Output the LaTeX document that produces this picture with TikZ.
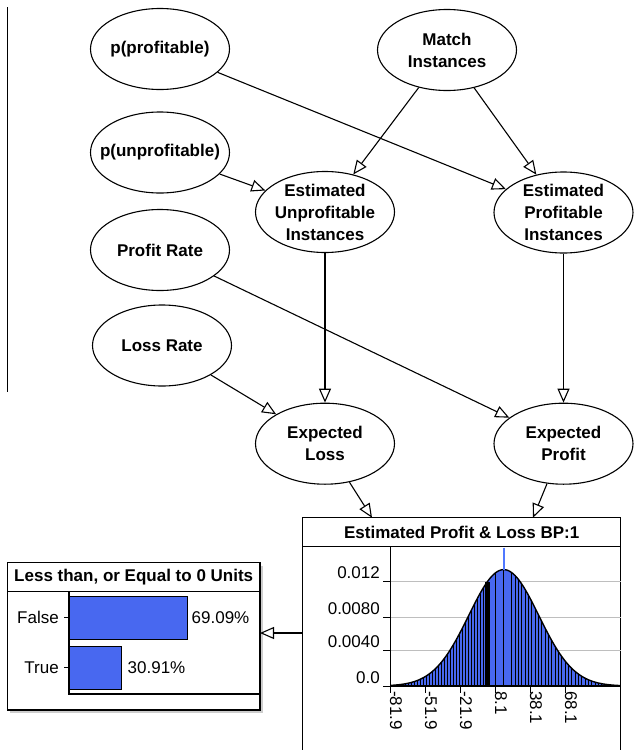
\documentclass[tikz,border=0pt]{standalone}
\usepackage{fontspec}
\setmainfont{Liberation Sans}
\usetikzlibrary{shapes.geometric,arrows.meta,calc}
\definecolor{barblue}{RGB}{72,104,240}
\definecolor{peakblue}{RGB}{80,120,255}
\definecolor{gridgray}{RGB}{190,190,190}
\definecolor{shadowgray}{RGB}{205,205,205}
\begin{document}
\begin{tikzpicture}[x=1pt,y=-1pt,
  bnt/.style={inner sep=0pt,align=center,font=\fontsize{17}{22}\selectfont\bfseries},
  bn/.style={ellipse,draw,line width=1.1pt,minimum width=139pt,minimum height=81pt,inner sep=0pt,label={[bnt]center:#1}},
  arr/.style={line width=1.1pt,-{Triangle[open,length=14pt,width=12pt]}},
  lbl/.style={font=\fontsize{17}{20}\selectfont,inner sep=0pt},
  ttl/.style={font=\fontsize{17}{20}\selectfont\bfseries,inner sep=0pt},
  frame/.style={line width=1.1pt},
  binline/.style={line width=0.8pt},
  declare function={zz(\x)=((\x-390.7)/1.16667-96.9)/30; pdfy(\x)=686-116.36*exp(-0.5*zz(\x)*zz(\x));}
]
\useasboundingbox (0,0) rectangle (633,750);
\fill[white] (0,0) rectangle (633,750);

% stray vertical line at left
\draw[line width=1.1pt] (7.3,7) -- (7.3,392);

% nodes
\node[bn={p(profitable)}] (pp) at (160,49) {};
\node[bn={Match\\Instances}] (mi) at (447,50) {};
\node[bn={p(unprofitable)}] (pu) at (160,152.5) {};
\node[bn={Estimated\\Unprofitable\\Instances}] (eu) at (325,212) {};
\node[bn={Estimated\\Profitable\\Instances}] (ep) at (563.5,212.5) {};
\node[bn={Profit Rate}] (pr) at (160,250) {};
\node[bn={Loss Rate}] (lr) at (162,345.5) {};
\node[bn={Expected\\Loss}] (el) at (325,443.7) {};
\node[bn={Expected\\Profit}] (epr) at (563.5,443.7) {};

% histogram box
\draw[frame] (302.7,760) -- (302.7,517.7) -- (620.7,517.7) -- (620.7,760);
\draw[frame] (302.7,546.7) -- (620.7,546.7);
\node[ttl] (htitle) at (461.7,532.4) {Estimated Profit \& Loss BP:1};
\coordinate (hinL) at (372,517.7);
\coordinate (hinR) at (533,517.7);
\coordinate (hout) at (302.7,633);
\coordinate (lin) at (260,633);

% grid
\foreach \gy in {581,617,650.7}
  \draw[gridgray,line width=1pt] (390.7,\gy) -- (620.7,\gy);
% filled curve
\fill[barblue] (390.7,686) -- plot[domain=390.7:620.7,samples=160] (\x,{pdfy(\x)}) -- (620.7,686) -- cycle;
% bin lines
\foreach \xx in {405,408,...,483,495,503.3,511.7}
  \draw[binline] (\xx,686) -- (\xx,{pdfy(\xx)});
\foreach \xx in {515,518.33,...,617}
  \draw[binline] (\xx,686) -- (\xx,{pdfy(\xx)});
\fill (485,686) rectangle (490,{pdfy(487.5)});
\draw[line width=1.4pt] plot[domain=390.7:620.7,samples=160] (\x,{pdfy(\x)});
\draw[peakblue,line width=1.5pt] (503.75,547.5) -- (503.75,{pdfy(503.75)});
% axes
\draw[line width=1.1pt] (390.7,686) -- (620.7,686);
\draw[line width=1.1pt] (390.7,546.7) -- (390.7,693);
\foreach \gy/\t in {581/0.012,617/0.0080,650.7/0.0040,686/0.0}{
  \draw[line width=1pt] (383,\gy) -- (390.7,\gy);
  \node[lbl,anchor=base east] at (380,\gy-3) {\t};
}
\foreach \tx/\t in {390.7/-81.9,425.7/-51.9,460.7/-21.9,495.7/8.1,530.7/38.1,565.7/68.1}{
  \draw[line width=1pt] (\tx,686) -- (\tx,693);
  \node[lbl,rotate=-90,anchor=west] at (\tx+5.3,691) {\t};
}

% left box with shadow
\fill[shadowgray] (10.3,565.7) rectangle (263,713);
\filldraw[frame,fill=white] (7.3,562.7) rectangle (260,710);
\draw[frame] (7.3,591.7) -- (260,591.7);
\node[ttl] (ltitle) at (133.7,577.4) {Less than, or Equal to 0 Units};
\draw[frame] (69,591.7) -- (69,694) -- (260,694);
\filldraw[fill=barblue,line width=1pt] (69,596) rectangle (187.3,639.3);
\filldraw[fill=barblue,line width=1pt] (69,646.7) rectangle (121,689.3);
\draw[line width=1pt] (64,617.7) -- (69,617.7);
\draw[line width=1pt] (64,667.7) -- (69,667.7);
\node[lbl,anchor=east] (fl) at (59,617.7) {False};
\node[lbl,anchor=east] (tl) at (59,667.7) {True};
\node[lbl,anchor=west] (fp) at (191.5,617.7) {69.09\%};
\node[lbl,anchor=west] (tp) at (127.5,667.7) {30.91\%};

% connectors
\draw[arr] (pp) -- (ep);
\draw[arr] (mi) -- (eu);
\draw[arr] (mi) -- (ep);
\draw[arr] (pu) -- (eu);
\draw[arr] (pr) -- (epr);
\draw[arr] (lr) -- (el);
\draw[arr] (eu) -- (el);
\draw[arr] (ep) -- (epr);
\draw[arr] (el) -- (hinL);
\draw[arr] (epr) -- (hinR);
\draw[arr] (hout) -- (lin);
\end{tikzpicture}
\end{document}
